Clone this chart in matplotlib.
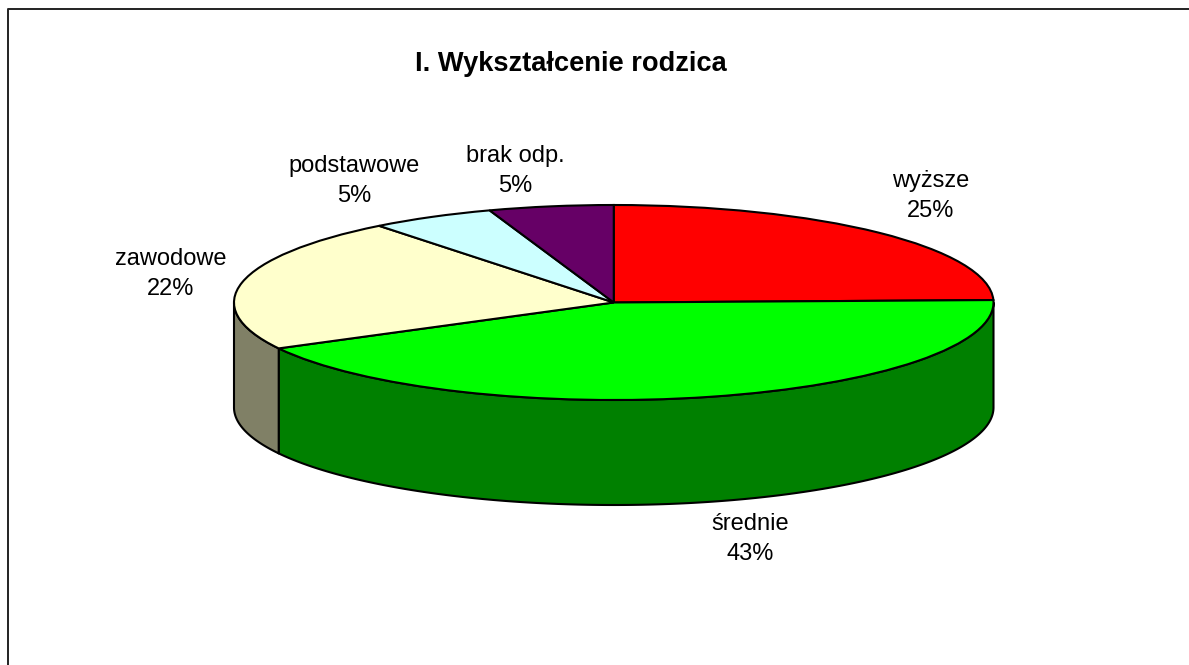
import numpy as np
import matplotlib
matplotlib.use("Agg")
import matplotlib.pyplot as plt
from matplotlib.lines import Line2D

W, H = 1189, 665
categories = ["wyższe", "średnie", "zawodowe", "podstawowe", "brak odp."]
values = [24.6, 42.6, 22.2, 5.3, 5.3]
shown_percent = [25, 43, 22, 5, 5]
top_colors = ["#FF0000", "#00FF00", "#FFFFCC", "#CCFFFF", "#660066"]
side_colors = ["#800000", "#008000", "#808066", "#668080", "#330033"]
title = "I. Wykształcenie rodzica"

plt.rcParams["font.family"] = ["Liberation Sans", "DejaVu Sans"]
fig = plt.figure(figsize=(W / 100, H / 100), dpi=100, facecolor="white")

# ellipse bounds in pixels
L, R, T, B = 234.0, 993.5, 205.0, 400.0
ax = fig.add_axes([L / W, 1 - B / H, (R - L) / W, (B - T) / H])
depth = 105 / ((B - T) / 2)  # wall height in data units

fracs = np.array(values) / sum(values)
edges = np.concatenate([[0], np.cumsum(fracs)]) * 2 * np.pi

# side walls of the front half
for i in range(len(values)):
    a0, a1 = max(edges[i], np.pi / 2), min(edges[i + 1], 3 * np.pi / 2)
    if a1 <= a0:
        continue
    th = np.linspace(a0, a1, 200)
    x, y = np.sin(th), np.cos(th)
    ax.fill(np.r_[x, x[::-1]], np.r_[y, y[::-1] - depth],
            facecolor=side_colors[i], edgecolor="black", lw=1.5,
            joinstyle="round", clip_on=False, zorder=1)

wedges, _ = ax.pie(values, colors=top_colors, startangle=90, counterclock=False,
                   radius=1, center=(0, 0), frame=True, normalize=True,
                   wedgeprops=dict(edgecolor="black", linewidth=1.5, clip_on=False, zorder=2))
ax.set_aspect("auto")
ax.set_xlim(-1, 1)
ax.set_ylim(-1, 1)
ax.axis("off")

def px(x, y):
    return x / W, 1 - y / H

label_centers = [(931, 196), (750, 539), (171, 274), (354, 181), (515, 171)]
for name, pct, (cx, cy) in zip(categories, shown_percent, label_centers):
    fig.text(*px(cx, cy), f"{name}\n{pct}%", ha="center", va="center",
             fontsize=17, color="black", linespacing=1.42)

fig.text(*px(571, 64), title, ha="center", va="center", fontsize=19.6, fontweight="bold")

bx0, by0 = 8, 9
fig.add_artist(Line2D([bx0 / W, bx0 / W, 1],
                      [0, 1 - by0 / H, 1 - by0 / H], color="#222222", lw=1.4))

fig.savefig("out.png", dpi=100, facecolor="white")
